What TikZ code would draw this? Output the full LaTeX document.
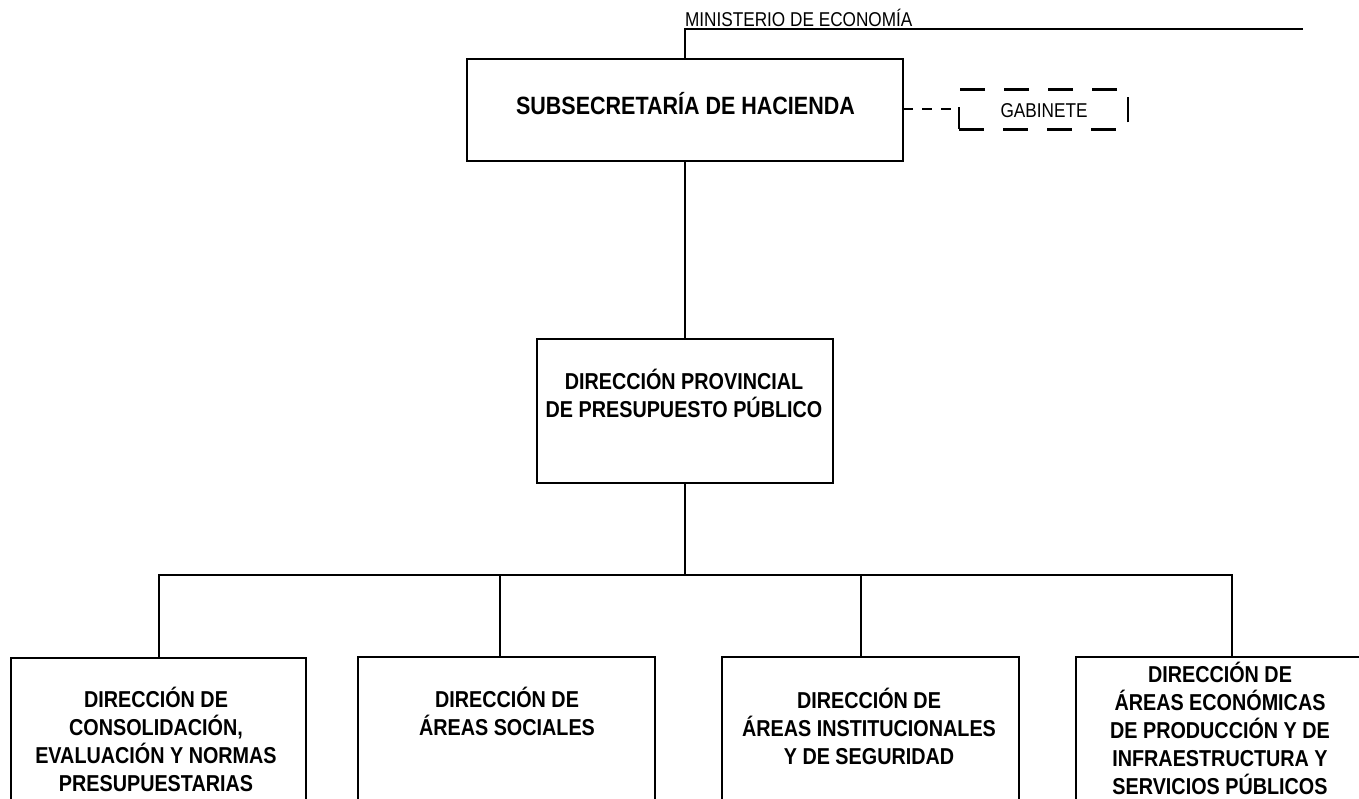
\documentclass[tikz,border=0pt]{standalone}
\usepackage{fontspec}
\setmainfont{Liberation Sans}
\newfontfamily\nsans{Liberation Sans}[FakeStretch=0.86]
\tikzset{
  orgbox/.style={draw, line width=2.2pt, inner sep=0pt, outer sep=0pt},
  link/.style={line width=2pt},
  dashlink/.style={line width=2pt, dash pattern=on 10pt off 9pt},
  gabbox/.style={draw, line width=2.2pt, dash pattern=on 25pt off 19pt, inner sep=0pt, outer sep=0pt},
  bigtxt/.style={font=\nsans\bfseries\fontsize{25}{30}\selectfont, align=center, anchor=north, inner sep=0pt, outer sep=0pt},
  boldtxt/.style={font=\nsans\bfseries\fontsize{23}{28}\selectfont, align=center, anchor=north, inner sep=0pt, outer sep=0pt},
  plaintxt/.style={font=\nsans\fontsize{20}{24}\selectfont, inner sep=0pt, outer sep=0pt}
}
\begin{document}
\begin{tikzpicture}[x=1pt,y=-1pt]
\useasboundingbox (0,0) rectangle (1359,799);
\clip (0,0) rectangle (1359,799);
\fill[white] (0,0) rectangle (1359,799);

% top
\node[plaintxt, anchor=north west] (min) at (685,4.7) {\rule{0pt}{22pt}MINISTERIO DE ECONOMÍA};
\coordinate (mend) at (1303,29.5);

\node[orgbox, minimum width=436pt, minimum height=102pt] (sub) at (685,110) {};
\node[bigtxt] (subt) at (685.5,89) {\rule{0pt}{26pt}SUBSECRETARÍA DE HACIENDA};

\node[gabbox, minimum width=169pt, minimum height=40pt] (gab) at (1043.5,109.5) {};
\node[plaintxt, anchor=north] (gabt) at (1044,95.3) {\rule{0pt}{22pt}GABINETE};

\node[orgbox, minimum width=296pt, minimum height=144pt] (prov) at (685,411) {};
\node[boldtxt] (provt) at (684,365) {\rule{0pt}{24pt}DIRECCIÓN PROVINCIAL\\DE PRESUPUESTO PÚBLICO};

% bottom row
\node[orgbox, anchor=north, minimum width=295pt, minimum height=200pt] (b1) at (158.5,658) {};
\node[boldtxt] (t1) at (156,683) {\rule{0pt}{24pt}DIRECCIÓN DE\\CONSOLIDACIÓN,\\EVALUACIÓN Y NORMAS\\PRESUPUESTARIAS};

\node[orgbox, anchor=north, minimum width=297pt, minimum height=200pt] (b2) at (506.5,657) {};
\node[boldtxt] (t2) at (507,683) {\rule{0pt}{24pt}DIRECCIÓN DE\\ÁREAS SOCIALES};

\node[orgbox, anchor=north, minimum width=297pt, minimum height=200pt] (b3) at (870.5,657) {};
\node[boldtxt] (t3) at (869,684) {\rule{0pt}{24pt}DIRECCIÓN DE\\ÁREAS INSTITUCIONALES\\Y DE SEGURIDAD};

\node[orgbox, anchor=north, minimum width=297pt, minimum height=200pt] (b4) at (1224.5,657) {};
\node[boldtxt] (t4) at (1220,658.5) {\rule{0pt}{24pt}DIRECCIÓN DE\\ÁREAS ECONÓMICAS\\DE PRODUCCIÓN Y DE\\INFRAESTRUCTURA Y\\SERVICIOS PÚBLICOS};

% connectors
\coordinate (bus) at (685,575);
\coordinate (a2) at ([xshift=-6.5pt]b2.north);
\coordinate (a3) at ([xshift=-9.5pt]b3.north);
\coordinate (a4) at ([xshift=7.5pt]b4.north);

\draw[link] (sub.north) |- (mend);
\draw[dashlink] (sub.east |- gab.west) -- (gab.west);
\draw[link] (sub.south) -- (prov.north);
\draw[link] (prov.south) -- (bus);
\draw[link] (b1.north) |- (bus) -| (a4);
\draw[link] (a2) -- (a2 |- bus);
\draw[link] (a3) -- (a3 |- bus);
\end{tikzpicture}
\end{document}
